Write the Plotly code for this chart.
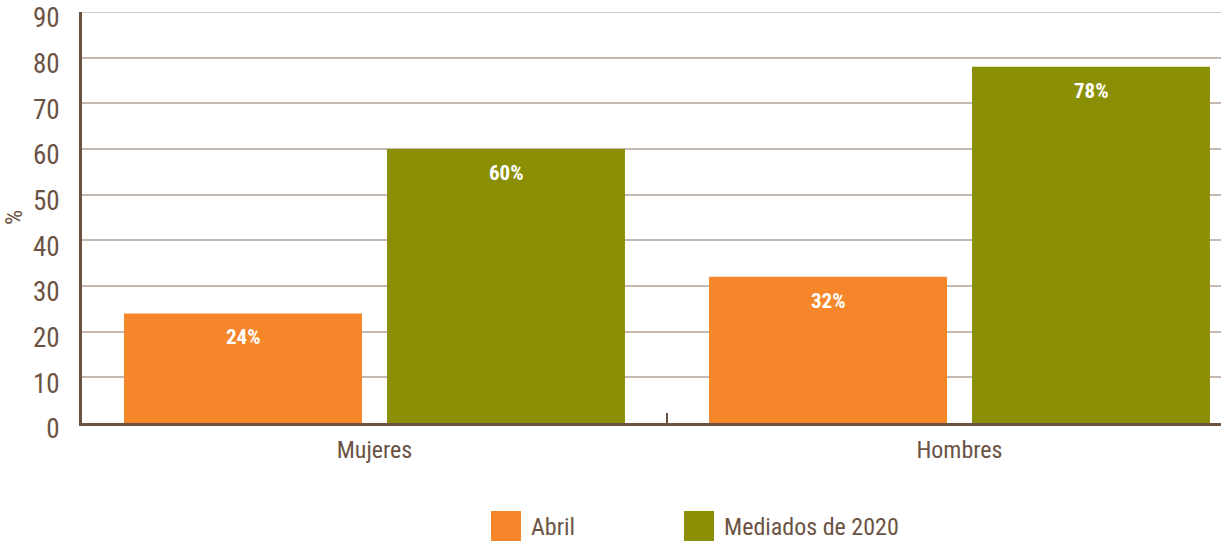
import plotly.graph_objects as go

categories = ["Mujeres", "Hombres"]
abril = [24, 32]
mediados = [60, 78]
series_names = ["Abril", "Mediados de 2020"]
colors = ["#f5862a", "#8b8f06"]
y_ticks = [0, 10, 20, 30, 40, 50, 60, 70, 80, 90]

FONT = "Roboto Condensed, Liberation Sans Narrow, Roboto, sans-serif"
BROWN = "#6b5344"
GRID = "#c4b8b0"

fig = go.Figure()
for name, vals, col in zip(series_names, [abril, mediados], colors):
    fig.add_trace(go.Bar(x=categories, y=vals, name=name, marker_color=col,
                         marker_line_width=0, showlegend=False))

# value labels inside bars near top
offsets = [-131.5, 131.5]
for vals, off in zip([abril, mediados], offsets):
    for c, v in zip(categories, vals):
        fig.add_annotation(x=c, y=v, text=f"<b>{v}%</b>", showarrow=False,
                           xshift=off, yanchor="top", yshift=-10,
                           font=dict(family=FONT, size=21, color="white"))

# top gridline (at range edge)
fig.add_shape(type="line", xref="paper", yref="y", x0=0, x1=1, y0=y_ticks[-1], y1=y_ticks[-1],
              line=dict(color=GRID, width=1.5), layer="below")

# manual legend
legend_x = [491, 684]
for name, col, lx in zip(series_names, colors, legend_x):
    fig.add_shape(type="rect", xref="paper", yref="paper",
                  x0=(lx - 82) / 1139, x1=(lx + 30 - 82) / 1139,
                  y0=(423 - 511) / 411, y1=(423 - 541) / 411,
                  fillcolor=col, line_width=0)
    fig.add_annotation(xref="paper", yref="paper", x=(lx + 38 - 82) / 1139,
                       y=(423 - 527) / 411, text=name, showarrow=False,
                       xanchor="left", yanchor="middle",
                       font=dict(family=FONT, size=24, color=BROWN))

fig.update_layout(
    width=1223, height=541,
    margin=dict(l=82, r=2, t=12, b=118, autoexpand=False),
    paper_bgcolor="white", plot_bgcolor="white",
    barmode="group", bargap=0.101, bargroupgap=0.095,
    font=dict(family=FONT, size=22, color=BROWN),
    showlegend=False,
)
fig.update_xaxes(range=[-0.5, 1.447], showline=True, linecolor=BROWN, linewidth=3,
                 ticks="inside", tickson="boundaries", ticklen=10, tickwidth=2,
                 tickcolor=BROWN, showgrid=False, automargin=False, ticklabelstandoff=3,
                 tickfont=dict(family=FONT, size=24, color=BROWN))
fig.update_yaxes(range=[0, 90], tickvals=y_ticks, showline=True, linecolor=BROWN,
                 linewidth=3, showgrid=True, gridcolor=GRID, gridwidth=1.5,
                 zeroline=False, ticks="", ticklabelstandoff=14, automargin=False,
                 ticklabeloverflow="allow", ticklabelshift=6,
                 title=dict(text="%", standoff=30, font=dict(family=FONT, size=24, color=BROWN)),
                 tickfont=dict(family=FONT, size=27, color=BROWN))

fig.write_html("out.html", config={"displayModeBar": False},
               post_script="document.body.style.margin='0';document.body.style.overflow='hidden';")
